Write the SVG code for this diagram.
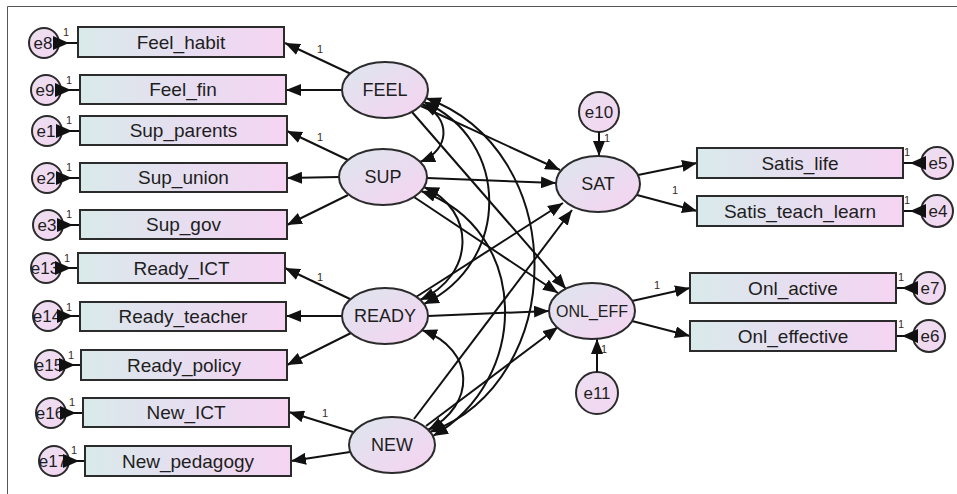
<svg xmlns="http://www.w3.org/2000/svg" width="957" height="494" viewBox="0 0 957 494">
<style>
  .box { stroke: #2b2b2b; stroke-width: 2; fill: url(#gBox); }
  .lat { stroke: #2b2b2b; stroke-width: 2; fill: url(#gLat); }
  .err { stroke: #2b2b2b; stroke-width: 2; fill: url(#gErr); }
  .t { font-family: "Liberation Sans", Arial, sans-serif; font-size: 18px; fill: #1e1e1e; text-anchor: middle; }
  .tb { font-family: "Liberation Sans", Arial, sans-serif; font-size: 19px; fill: #1e1e1e; text-anchor: middle; }
  .te { font-family: "Liberation Sans", Arial, sans-serif; font-size: 17px; fill: #1e1e1e; text-anchor: middle; }
  .one { font-family: "Liberation Sans", Arial, sans-serif; font-size: 11px; fill: #3a2a20; }
  .ln { stroke: #111; stroke-width: 2; fill: none; }
  .a { marker-end: url(#arr); }
  .d { marker-start: url(#arr); marker-end: url(#arr); }
  .e { marker-start: url(#errh); }
</style>
<defs>
  <linearGradient id="gBox" x1="0" y1="0" x2="1" y2="0">
    <stop offset="0" stop-color="#d9eaea"/>
    <stop offset="0.5" stop-color="#e6def0"/>
    <stop offset="1" stop-color="#f5d4f2"/>
  </linearGradient>
  <linearGradient id="gLat" x1="0" y1="0" x2="1" y2="1">
    <stop offset="0" stop-color="#dde6ee"/>
    <stop offset="1" stop-color="#f6d3f1"/>
  </linearGradient>
  <linearGradient id="gErr" x1="0" y1="0" x2="1" y2="1">
    <stop offset="0" stop-color="#ecdff0"/>
    <stop offset="1" stop-color="#f3d6f1"/>
  </linearGradient>
  <marker id="arr" viewBox="0 0 15 12" markerWidth="15" markerHeight="12" refX="15" refY="6" orient="auto-start-reverse" markerUnits="userSpaceOnUse">
    <path d="M0,0 L15,6 L0,12 z" fill="#111"/>
  </marker>
  <marker id="errh" viewBox="0 0 16 14" markerWidth="16" markerHeight="14" refX="0" refY="7" orient="auto" markerUnits="userSpaceOnUse">
    <path d="M0,0 L16,7 L0,14 z" fill="#111"/>
  </marker>
</defs>
<rect width="957" height="494" fill="#fff"/>
<path d="M7.5,494 V6.5 H957" fill="none" stroke="#555" stroke-width="1"/>

<g id="e10"><circle class="err" cx="599" cy="112" r="20"/><text class="te" x="599" y="112" dy="0.35em">e10</text></g>
<g id="e11"><circle class="err" cx="597" cy="393" r="21"/><text class="te" x="597" y="393" dy="0.35em">e11</text></g>
<g id="e8"><circle class="err" cx="44" cy="43" r="15"/><text class="te" x="43" y="43" dy="0.35em">e8</text></g>
<g id="e9"><circle class="err" cx="46" cy="90" r="15"/><text class="te" x="45" y="90" dy="0.35em">e9</text></g>
<g id="e1"><circle class="err" cx="47" cy="131" r="15"/><text class="te" x="46" y="131" dy="0.35em">e1</text></g>
<g id="e2"><circle class="err" cx="47" cy="178" r="15"/><text class="te" x="46" y="178" dy="0.35em">e2</text></g>
<g id="e3"><circle class="err" cx="48" cy="225" r="15"/><text class="te" x="47" y="225" dy="0.35em">e3</text></g>
<g id="e13"><circle class="err" cx="46" cy="268" r="15"/><text class="te" x="45" y="268" dy="0.35em">e13</text></g>
<g id="e14"><circle class="err" cx="48" cy="316" r="15"/><text class="te" x="47" y="316" dy="0.35em">e14</text></g>
<g id="e15"><circle class="err" cx="50" cy="365" r="15"/><text class="te" x="49" y="365" dy="0.35em">e15</text></g>
<g id="e16"><circle class="err" cx="51" cy="413" r="15"/><text class="te" x="50" y="413" dy="0.35em">e16</text></g>
<g id="e17"><circle class="err" cx="54" cy="461" r="15"/><text class="te" x="53" y="461" dy="0.35em">e17</text></g>
<g id="e5"><circle class="err" cx="937" cy="163" r="16"/><text class="te" x="938" y="163" dy="0.35em">e5</text></g>
<g id="e4"><circle class="err" cx="937" cy="211" r="16"/><text class="te" x="938" y="211" dy="0.35em">e4</text></g>
<g id="e7"><circle class="err" cx="929" cy="288" r="16"/><text class="te" x="930" y="288" dy="0.35em">e7</text></g>
<g id="e6"><circle class="err" cx="929" cy="336" r="16"/><text class="te" x="930" y="336" dy="0.35em">e6</text></g>

<g id="connectors">
  <!-- loadings -->
  <line class="ln a" x1="350" y1="73.5" x2="285" y2="43"/>
  <line class="ln a" x1="342" y1="90" x2="286" y2="90"/>
  <line class="ln a" x1="348" y1="160" x2="287" y2="131"/>
  <line class="ln a" x1="339" y1="177" x2="287" y2="178"/>
  <line class="ln a" x1="348" y1="195" x2="287" y2="225"/>
  <line class="ln a" x1="350" y1="299" x2="285" y2="268"/>
  <line class="ln a" x1="342" y1="316" x2="286" y2="316"/>
  <line class="ln a" x1="351" y1="333" x2="287" y2="365"/>
  <line class="ln a" x1="353" y1="432" x2="289" y2="412"/>
  <line class="ln a" x1="350" y1="452" x2="291" y2="461"/>
  <line class="ln a" x1="638" y1="175" x2="697" y2="163"/>
  <line class="ln a" x1="637" y1="195" x2="697" y2="211"/>
  <line class="ln a" x1="632" y1="301" x2="690" y2="288"/>
  <line class="ln a" x1="632" y1="321" x2="690" y2="336"/>
  <line class="ln a" x1="599" y1="132" x2="599" y2="156"/>
  <line class="ln a" x1="597" y1="372" x2="597" y2="339"/>
  <!-- structural paths -->
  <line class="ln a" x1="421" y1="106" x2="560" y2="170"/>
  <line class="ln a" x1="412" y1="112" x2="566" y2="289"/>
  <line class="ln a" x1="427" y1="178" x2="556" y2="183"/>
  <line class="ln a" x1="414" y1="197" x2="558" y2="293"/>
  <line class="ln a" x1="416" y1="297" x2="563" y2="203"/>
  <line class="ln a" x1="428" y1="316" x2="549" y2="311"/>
  <line class="ln a" x1="414" y1="419" x2="572" y2="210"/>
  <line class="ln a" x1="426" y1="426" x2="558" y2="327"/>
  <!-- covariances -->
  <path class="ln d" d="M422,104 C452,118 450,150 420,162"/>
  <path class="ln d" d="M424,102 C511,140 511,262 424,304"/>
  <path class="ln d" d="M426,98 C570,150 570,380 430,432"/>
  <path class="ln d" d="M424,187 C476,210 476,275 420,300"/>
  <path class="ln d" d="M421,191 C531,230 531,380 433,436"/>
  <path class="ln d" d="M422,330 C476,350 476,405 428,430"/>
  <!-- error arrows -->
  <line class="ln e" x1="53" y1="43" x2="78" y2="43"/>
  <line class="ln e" x1="55" y1="90" x2="80" y2="90"/>
  <line class="ln e" x1="56" y1="131" x2="80" y2="131"/>
  <line class="ln e" x1="56" y1="178" x2="80" y2="178"/>
  <line class="ln e" x1="57" y1="225" x2="80" y2="225"/>
  <line class="ln e" x1="55" y1="268" x2="78" y2="268"/>
  <line class="ln e" x1="57" y1="316" x2="80" y2="316"/>
  <line class="ln e" x1="59" y1="365" x2="81" y2="365"/>
  <line class="ln e" x1="60" y1="413" x2="83" y2="413"/>
  <line class="ln e" x1="63" y1="461" x2="85" y2="461"/>
  <line class="ln e" x1="926" y1="163" x2="903" y2="163"/>
  <line class="ln e" x1="926" y1="211" x2="903" y2="211"/>
  <line class="ln e" x1="918" y1="288" x2="896" y2="288"/>
  <line class="ln e" x1="918" y1="336" x2="896" y2="336"/>
  <!-- weight labels -->
  <text class="one" x="63" y="36">1</text>
  <text class="one" x="66" y="84">1</text>
  <text class="one" x="66" y="124">1</text>
  <text class="one" x="66" y="171">1</text>
  <text class="one" x="66" y="218">1</text>
  <text class="one" x="64" y="262">1</text>
  <text class="one" x="66" y="311">1</text>
  <text class="one" x="68" y="359">1</text>
  <text class="one" x="69" y="406">1</text>
  <text class="one" x="71" y="454">1</text>
  <text class="one" x="904" y="156">1</text>
  <text class="one" x="904" y="204">1</text>
  <text class="one" x="898" y="281">1</text>
  <text class="one" x="898" y="328">1</text>
  <text class="one" x="317" y="53">1</text>
  <text class="one" x="317" y="141">1</text>
  <text class="one" x="317" y="281">1</text>
  <text class="one" x="322" y="417">1</text>
  <text class="one" x="672" y="194">1</text>
  <text class="one" x="654" y="289">1</text>
  <text class="one" x="604" y="142">1</text>
  <text class="one" x="601" y="353">1</text>
</g>

<g id="Feel_habit"><rect class="box" x="78" y="27" width="206" height="30"/><text class="tb" x="181" y="42" dy="0.35em">Feel_habit</text></g>
<g id="Feel_fin"><rect class="box" x="80" y="75" width="206" height="29"/><text class="tb" x="183" y="89.5" dy="0.35em">Feel_fin</text></g>
<g id="Sup_parents"><rect class="box" x="80" y="116" width="207" height="29"/><text class="tb" x="183.5" y="130.5" dy="0.35em">Sup_parents</text></g>
<g id="Sup_union"><rect class="box" x="80" y="163" width="207" height="29"/><text class="tb" x="183.5" y="177.5" dy="0.35em">Sup_union</text></g>
<g id="Sup_gov"><rect class="box" x="80" y="210" width="207" height="29"/><text class="tb" x="183.5" y="224.5" dy="0.35em">Sup_gov</text></g>
<g id="Ready_ICT"><rect class="box" x="78" y="253" width="207" height="30"/><text class="tb" x="181.5" y="268" dy="0.35em">Ready_ICT</text></g>
<g id="Ready_teacher"><rect class="box" x="80" y="302" width="206" height="29"/><text class="tb" x="183" y="316.5" dy="0.35em">Ready_teacher</text></g>
<g id="Ready_policy"><rect class="box" x="81" y="350" width="206" height="30"/><text class="tb" x="184" y="365" dy="0.35em">Ready_policy</text></g>
<g id="New_ICT"><rect class="box" x="83" y="398" width="206" height="29"/><text class="tb" x="186" y="412.5" dy="0.35em">New_ICT</text></g>
<g id="New_pedagogy"><rect class="box" x="85" y="446" width="206" height="30"/><text class="tb" x="188" y="461" dy="0.35em">New_pedagogy</text></g>
<g id="Satis_life"><rect class="box" x="697" y="148" width="206" height="30"/><text class="tb" x="800" y="163" dy="0.35em">Satis_life</text></g>
<g id="Satis_teach_learn"><rect class="box" x="697" y="196" width="206" height="30"/><text class="tb" x="800" y="211" dy="0.35em">Satis_teach_learn</text></g>
<g id="Onl_active"><rect class="box" x="690" y="273" width="206" height="30"/><text class="tb" x="793" y="288" dy="0.35em">Onl_active</text></g>
<g id="Onl_effective"><rect class="box" x="690" y="321" width="206" height="30"/><text class="tb" x="793" y="336" dy="0.35em">Onl_effective</text></g>

<g id="FEEL"><ellipse class="lat" cx="385" cy="90" rx="43" ry="28"/><text class="t" x="385" y="90" dy="0.35em">FEEL</text></g>
<g id="SUP"><ellipse class="lat" cx="383" cy="177" rx="44" ry="28"/><text class="t" x="383" y="177" dy="0.35em">SUP</text></g>
<g id="READY"><ellipse class="lat" cx="385" cy="316" rx="43" ry="28"/><text class="t" x="385" y="316" dy="0.35em">READY</text></g>
<g id="NEW"><ellipse class="lat" cx="392" cy="445" rx="43" ry="28"/><text class="t" x="392" y="445" dy="0.35em">NEW</text></g>
<g id="SAT"><ellipse class="lat" cx="598" cy="184" rx="42" ry="28"/><text class="t" x="598" y="184" dy="0.35em">SAT</text></g>
<g id="ONL_EFF"><ellipse class="lat" cx="592" cy="311" rx="43" ry="28"/><text class="t" x="592" y="311" dy="0.35em" style="font-size:16px">ONL_EFF</text></g>
</svg>
